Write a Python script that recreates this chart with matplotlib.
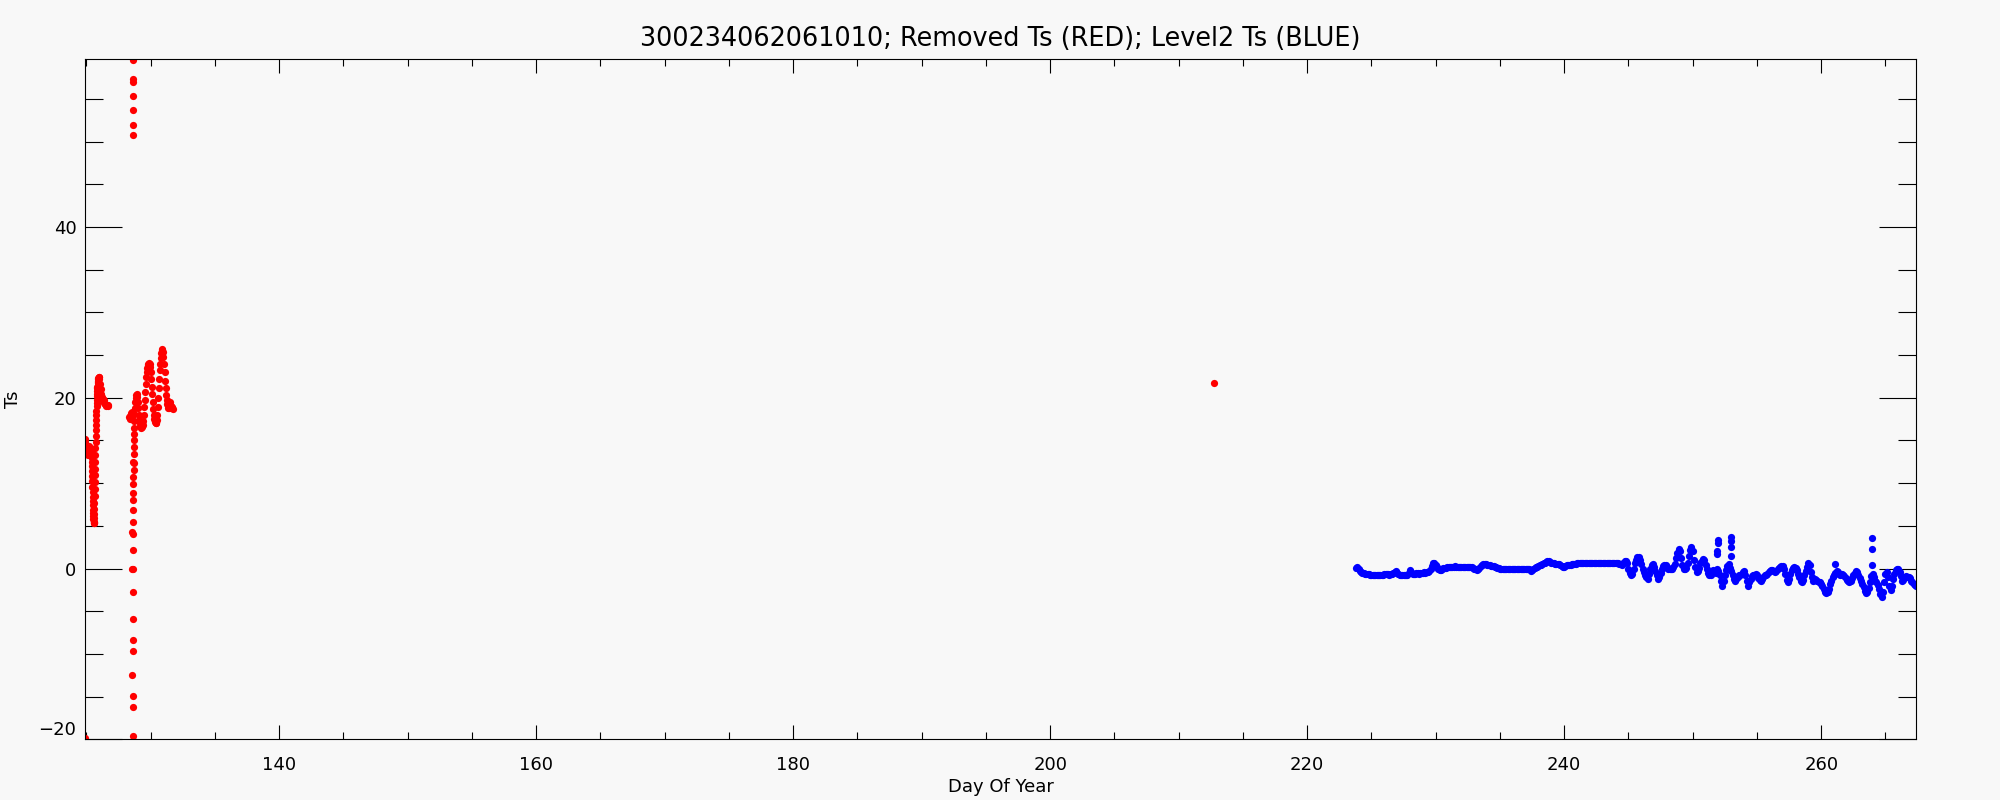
import matplotlib
matplotlib.use("Agg")
import matplotlib.pyplot as plt
import numpy as np

TITLE = "300234062061010; Removed Ts (RED); Level2 Ts (BLUE)"
BG = "#f8f8f8"

# removed Ts (red): day of year, value
red_day = [
    124.88,
    # first stretch
    124.88, 124.90, 124.92, 124.94, 124.96, 124.98, 125.00, 125.02, 125.04, 125.06,
    125.08, 125.10, 125.12, 125.14, 125.16, 125.18, 125.20, 125.22, 125.24, 125.26,
    125.28, 125.30, 125.32, 125.34, 125.36, 125.38,
    125.40, 125.41, 125.42, 125.43, 125.44, 125.45, 125.46, 125.47, 125.48, 125.49,
    125.50, 125.51, 125.52, 125.53, 125.54, 125.55, 125.56, 125.57, 125.58, 125.59,
    125.60, 125.61, 125.62, 125.63, 125.64, 125.65, 125.66, 125.67, 125.68, 125.69,
    125.70, 125.71, 125.72, 125.73, 125.74, 125.75, 125.76, 125.77, 125.78, 125.79,
    125.80, 125.81, 125.82, 125.83, 125.84, 125.85, 125.86, 125.87, 125.88, 125.89,
    125.90, 125.92, 125.94, 125.96, 125.98, 126.02,
    126.06, 126.10, 126.15, 126.20, 126.25, 126.30, 126.35, 126.40, 126.45, 126.50,
    126.55, 126.60, 126.65, 126.70,
    # spike column
    128.60, 128.60, 128.61, 128.60, 128.60, 128.60, 128.61,
    128.60, 128.60, 128.60, 128.58, 128.60, 128.59, 128.62, 128.60, 128.57, 128.63,
    128.66, 128.61, 128.56, 128.65, 128.66, 128.66, 128.66, 128.66, 128.66, 128.67,
    128.67, 128.59, 128.68, 128.69, 128.70, 128.71, 128.71, 128.72, 128.73,
    # second stretch
    128.33, 128.38, 128.42, 128.46, 128.50, 128.54, 128.58, 128.62, 128.75, 128.79,
    128.83, 128.88, 128.92, 128.96, 129.00, 129.04, 129.08, 129.12, 129.17, 129.21,
    129.25, 129.29, 129.33, 129.38, 129.42, 129.46, 129.50, 129.54, 129.58, 129.62,
    129.67, 129.71, 129.75, 129.79, 129.83, 129.88, 129.92, 129.96, 130.00, 130.04,
    130.08, 130.12, 130.17, 130.21, 130.25, 130.29, 130.33, 130.38, 130.42, 130.46,
    130.50, 130.54, 130.58, 130.62, 130.67, 130.71, 130.75, 130.79, 130.83, 130.88,
    130.92, 130.96, 131.00, 131.04, 131.08, 131.12, 131.17, 131.21, 131.25, 131.29,
    131.33, 131.38, 131.42, 131.46, 131.50, 131.54, 131.58, 131.63, 131.67, 131.72,
    212.75,
]
red_ts = [
    -19.9,
    15.2, 14.8, 14.4, 14.0, 13.7, 13.5, 13.4, 13.6, 13.8, 14.1,
    13.9, 13.6, 13.4, 13.3, 13.5, 13.8, 14.2, 14.4, 14.1, 13.7,
    13.5, 13.4, 13.6, 13.9, 14.0, 13.7,
    13.4, 13.0, 12.5, 12.0, 11.4, 10.8, 10.2, 9.6, 9.0, 8.4,
    7.9, 7.4, 6.9, 6.5, 6.1, 5.8, 5.5, 5.3, 5.3, 5.5,
    5.9, 6.4, 7.0, 7.7, 8.5, 9.3, 10.1, 10.9, 11.7, 12.5,
    13.3, 14.1, 14.8, 15.5, 16.2, 16.8, 17.4, 18.0, 18.5, 19.0,
    19.4, 19.8, 20.2, 20.5, 20.8, 21.1, 21.3, 21.5, 21.7, 21.9,
    22.0, 22.2, 22.3, 22.4, 22.4, 22.2,
    21.6, 21.0, 20.5, 20.1, 19.9, 19.9, 19.7, 19.4, 19.3, 19.2,
    19.0, 19.1, 19.0, 19.1,
    59.6, 57.3, 57.0, 55.4, 53.7, 52.0, 50.8,
    -19.6, -16.2, -14.9, -12.5, -9.6, -8.4, -5.9, -2.8, 0.0, 0.0,
    2.2, 4.0, 4.3, 5.5, 6.8, 8.0, 8.9, 9.9, 10.7, 11.5,
    12.4, 12.5, 13.4, 14.2, 15.0, 15.8, 16.5, 17.3, 18.1,
    17.8, 17.5, 17.9, 18.2, 17.6, 17.9, 18.3, 18.0, 18.8, 19.5,
    20.0, 20.3, 20.4, 20.1, 19.5, 18.8, 18.0, 17.4, 17.0, 16.7,
    16.6, 16.5, 16.6, 16.8, 17.3, 18.0, 18.9, 19.8, 20.7, 21.6,
    22.4, 23.0, 23.5, 23.8, 24.0, 24.1, 24.0, 23.6, 23.0, 22.2,
    21.3, 20.4, 19.5, 18.7, 18.0, 17.5, 17.2, 17.1, 17.1, 17.4,
    18.0, 18.9, 20.0, 21.1, 22.2, 23.2, 24.0, 24.7, 25.2, 25.6,
    25.7, 25.4, 24.8, 24.0, 23.0, 22.0, 21.1, 20.3, 19.7, 19.3,
    19.0, 18.8, 18.8, 19.1, 19.5, 19.3, 19.0, 18.8, 18.9, 18.7,
    21.7,
]

# level2 Ts (blue): regular series, one row per day starting at blue_start
blue_start = 223.8
blue_step = 0.1
blue_ts = [
    0.1, 0.2, -0.1, -0.3, -0.4, -0.5, -0.5, -0.6, -0.6, -0.6,
    -0.6, -0.7, -0.7, -0.7, -0.8, -0.8, -0.8, -0.8, -0.8, -0.7,
    -0.7, -0.7, -0.6, -0.6, -0.6, -0.6, -0.7, -0.6, -0.6, -0.5,
    -0.4, -0.3, -0.5, -0.6, -0.7, -0.8, -0.8, -0.8, -0.8, -0.8,
    -0.7, -0.5, -0.2, -0.4, -0.6, -0.6, -0.6, -0.5, -0.5, -0.6,
    -0.5, -0.5, -0.5, -0.4, -0.5, -0.4, -0.4, -0.3, -0.1, 0.3,
    0.7, 0.6, 0.4, 0.2, 0.0, -0.2, -0.2, -0.1, 0.1, 0.1,
    0.1, 0.2, 0.2, 0.2, 0.2, 0.2, 0.2, 0.3, 0.2, 0.2,
    0.2, 0.2, 0.2, 0.2, 0.2, 0.2, 0.2, 0.2, 0.2, 0.2,
    0.2, 0.1, 0.0, -0.1, -0.2, -0.1, 0.1, 0.3, 0.4, 0.5,
    0.5, 0.5, 0.4, 0.4, 0.4, 0.3, 0.3, 0.3, 0.2, 0.2,
    0.1, 0.1, 0.0, 0.0, 0.0, 0.0, 0.0, 0.0, 0.0, 0.0,
    0.0, 0.0, 0.0, 0.0, 0.0, 0.0, 0.0, 0.0, 0.0, 0.0,
    0.0, 0.0, 0.0, 0.0, 0.0, -0.1, -0.3, -0.2, 0.0, 0.1,
    0.2, 0.2, 0.3, 0.4, 0.4, 0.5, 0.6, 0.7, 0.8, 0.9,
    0.9, 0.8, 0.7, 0.6, 0.6, 0.5, 0.5, 0.5, 0.5, 0.4,
    0.3, 0.2, 0.2, 0.3, 0.4, 0.4, 0.4, 0.4, 0.5, 0.5,
    0.5, 0.5, 0.6, 0.6, 0.6, 0.6, 0.6, 0.6, 0.7, 0.7,
    0.7, 0.7, 0.6, 0.6, 0.7, 0.7, 0.7, 0.7, 0.7, 0.7,
    0.7, 0.6, 0.6, 0.6, 0.6, 0.6, 0.6, 0.6, 0.6, 0.6,
    0.6, 0.6, 0.6, 0.6, 0.6, 0.5, 0.5, 0.4, 0.6, 0.9,
    0.9, 0.6, 0.0, -0.5, -0.8, -0.6, 0.0, 0.6, 1.0, 1.3,
    1.3, 1.0, 0.5, 0.0, -0.4, -0.8, -1.0, -1.2, -0.6, 0.0,
    0.4, 0.5, 0.2, -0.3, -0.8, -1.2, -1.0, -0.5, 0.0, 0.3,
    0.4, 0.4, 0.2, 0.0, 0.0, 0.0, 0.0, 0.2, 0.5, 1.2,
    1.8, 2.3, 2.0, 1.2, 0.4, 0.0, 0.0, 0.1, 0.6, 1.5,
    2.2, 2.5, 2.0, 1.0, 0.2, -0.4, -0.3, 0.1, 0.6, 0.9,
    1.1, 1.0, 0.4, -0.1, -0.5, -0.8, -0.7, -0.3, -0.2, -0.3,
    -0.5, -0.1, -0.3, -0.8, -1.5, -2.0, -1.4, -0.8, -0.2, 0.3,
    0.5, 0.1, -0.3, -0.8, -1.2, -1.4, -1.2, -1.0, -0.8, -0.7,
    -0.6, -0.4, -0.3, -0.8, -1.5, -2.0, -1.6, -1.2, -0.9, -0.8,
    -0.7, -0.6, -0.8, -1.1, -1.3, -1.4, -1.2, -1.0, -0.8, -0.7,
    -0.6, -0.4, -0.3, -0.2, -0.2, -0.3, -0.4, -0.3, -0.1, 0.1,
    0.2, 0.3, 0.3, 0.0, -0.6, -1.3, -1.6, -1.2, -0.6, -0.2,
    0.1, 0.2, 0.1, -0.2, -0.6, -1.0, -1.4, -1.6, -1.3, -0.8,
    -0.3, 0.2, 0.6, 0.4, -0.4, -1.0, -1.4, -1.2, -1.3, -1.5,
    -1.6, -1.6, -1.8, -2.1, -2.4, -2.7, -2.9, -2.8, -2.4, -1.8,
    -1.4, -1.0, -0.8, -0.5, -0.3, -0.4, -0.6, -0.7, -0.6, -0.7,
    -0.9, -1.1, -1.3, -1.5, -1.6, -1.4, -1.1, -0.8, -0.5, -0.3,
    -0.4, -0.7, -1.1, -1.5, -1.8, -2.2, -2.6, -2.9, -2.7, -2.3,
    -1.6, -0.9, -0.6, -1.0, -1.4, -1.6, -1.9, -2.4, -3.0, -3.3,
    -2.8, -1.6, -0.6, -0.4, -1.0, -2.0, -2.5, -2.0, -1.2, -0.6,
    -0.2, 0.0, 0.0, -0.4, -0.9, -1.4, -1.3, -1.0, -0.9, -1.0,
    -1.0, -1.1, -1.4, -1.6, -1.8, -1.9, -2.0,
]
# isolated blue spikes
blue_spike_day = [251.94, 251.94, 251.92, 251.92, 253.0, 253.0, 253.0, 253.0,
                  261.08, 263.93, 263.93, 263.93]
blue_spike_ts = [3.35, 2.96, 2.03, 1.72, 3.66, 3.27, 2.5, 1.5,
                 0.5, 3.59, 2.3, 0.47]

x_range = (124.87, 267.4)
y_range = (-20.0, 59.65)

blue_day = blue_start + blue_step * np.arange(len(blue_ts))

fig = plt.figure(figsize=(20, 8), dpi=100, facecolor=BG)
ax = fig.add_axes([0.04235, 0.07588, 0.9158, 0.85], facecolor=BG)

ms = 5.2
ax.plot(red_day, red_ts, "o", color="#ff0000", ms=ms, mew=0)
ax.plot(blue_day, blue_ts, "o", color="#0000ff", ms=ms, mew=0)
ax.plot(blue_spike_day, blue_spike_ts, "o", color="#0000ff", ms=ms, mew=0)

ax.set_xlim(*x_range)
ax.set_ylim(*y_range)

ax.set_xticks([140, 160, 180, 200, 220, 240, 260])
ax.set_xticks(np.arange(125, 268, 5), minor=True)
ax.set_yticks([-20, 0, 20, 40])
ax.set_yticks(np.arange(-20, 60, 5), minor=True)

for s in ax.spines.values():
    s.set_linewidth(0.8)
    s.set_color("black")

ax.tick_params(axis="x", which="major", direction="in", length=10, width=0.8,
               top=True, labelsize=13, pad=12)
ax.tick_params(axis="x", which="minor", direction="in", length=5, width=0.8, top=True)
ax.tick_params(axis="y", which="major", direction="in", length=26.5, width=0.8,
               right=True, labelsize=13, pad=6)
ax.tick_params(axis="y", which="minor", direction="in", length=13, width=0.8, right=True)

# IDL lifts the lowest y label so it sits on the axis
ax.yaxis.get_major_ticks()[0].label1.set_verticalalignment("bottom")

ax.set_xlabel("Day Of Year", fontsize=13, labelpad=3)
ax.set_ylabel("Ts", fontsize=13)
ax.yaxis.set_label_coords(-0.034, 0.5)
fig.text(0.5, 0.951, TITLE, ha="center", va="center", fontsize=18.4)

fig.savefig("out.png", dpi=100, facecolor=BG)
